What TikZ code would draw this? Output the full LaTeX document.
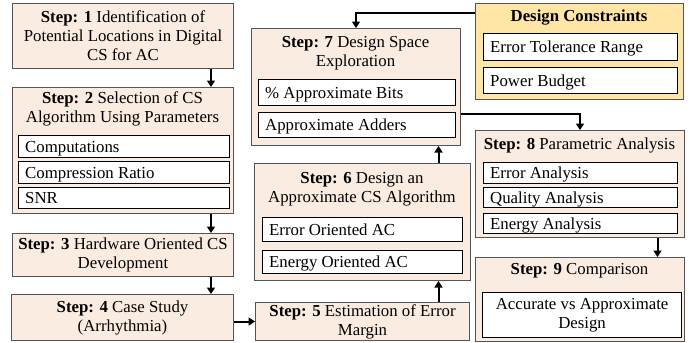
\documentclass[tikz,border=0pt]{standalone}
\usepackage{fontspec}
\setmainfont{Liberation Serif}
\usetikzlibrary{arrows.meta}
\definecolor{peach}{HTML}{FBECE1}
\definecolor{dcyel}{HTML}{FFE6A6}
\definecolor{edgegray}{HTML}{555555}
\begin{document}
\begin{tikzpicture}[x=1pt,y=-1pt,
  font=\fontsize{16.8}{19}\selectfont,
  stepbox/.style={draw=edgegray, line width=1pt, fill=peach, inner sep=0pt, anchor=north west, align=center},
  dcbox/.style={stepbox, fill=dcyel},
  subbox/.style={draw=black, line width=1.2pt, fill=white, inner sep=0pt, anchor=north west, align=center},
  ttl/.style={inner sep=0pt, align=center},
  sublbl/.style={inner sep=0pt, anchor=base west},
  arr/.style={line width=2pt, -{Triangle[length=6.5pt,width=8pt]}}]
\useasboundingbox (0,0) rectangle (697,343);

% Step 1
\node[stepbox, minimum width=221pt, minimum height=65pt] (s1) at (12,3)
  {\textbf{Step: 1} Identification of\\Potential Locations in Digital\\CS for AC};

% Step 2
\node[stepbox, minimum width=221pt, minimum height=126pt] (s2) at (12,87) {};
\node[ttl] (s2t) at (122.5,109) {\textbf{Step: 2} Selection of CS\\Algorithm Using Parameters};
\node[subbox, minimum width=211pt, minimum height=22pt] (s2a) at (18,135) {};
\node[subbox, minimum width=211pt, minimum height=22pt] (s2b) at (18,161) {};
\node[subbox, minimum width=211pt, minimum height=21pt] (s2c) at (18,187) {};
\node[sublbl] at ([shift={(7,5.5)}]s2a.west) {Computations};
\node[sublbl] at ([shift={(7,5.5)}]s2b.west) {Compression Ratio};
\node[sublbl] at ([shift={(7,5.5)}]s2c.west) {SNR};

% Step 3
\node[stepbox, minimum width=221pt, minimum height=43pt] (s3) at (12,233)
  {\textbf{Step: 3} Hardware Oriented CS\\Development};

% Step 4
\node[stepbox, minimum width=222pt, minimum height=46pt] (s4) at (11,294)
  {\textbf{Step: 4} Case Study\\(Arrhythmia)};

% Step 5
\node[stepbox, minimum width=214pt, minimum height=38pt] (s5) at (255,302)
  {\textbf{Step: 5} Estimation of Error\\Margin};

% Step 6
\node[stepbox, minimum width=216pt, minimum height=117pt] (s6) at (254,163) {};
\node[ttl] (s6t) at (362,189) {\textbf{Step: 6} Design an\\Approximate CS Algorithm};
\node[subbox, minimum width=200pt, minimum height=24pt] (s6a) at (262,217) {};
\node[subbox, minimum width=200pt, minimum height=23pt] (s6b) at (262,250) {};
\node[sublbl] at ([shift={(7,5.5)}]s6a.west) {Error Oriented AC};
\node[sublbl] at ([shift={(7,5.5)}]s6b.west) {Energy Oriented AC};

% Step 7
\node[stepbox, minimum width=209pt, minimum height=117pt] (s7) at (251,28) {};
\node[ttl] (s7t) at (355.5,53) {\textbf{Step: 7} Design Space\\Exploration};
\node[subbox, minimum width=197pt, minimum height=26pt] (s7a) at (258,79) {};
\node[subbox, minimum width=197pt, minimum height=25pt] (s7b) at (258,112) {};
\node[sublbl] at ([shift={(7,5.5)}]s7a.west) {\% Approximate Bits};
\node[sublbl] at ([shift={(7,5.5)}]s7b.west) {Approximate Adders};

% Design constraints
\node[dcbox, minimum width=208pt, minimum height=96pt] (dc) at (475,3) {};
\node[ttl] (dct) at (579,18) {\textbf{Design Constraints}};
\node[subbox, minimum width=194pt, minimum height=27pt] (dca) at (483,33) {};
\node[subbox, minimum width=194pt, minimum height=26pt] (dcb) at (483,67) {};
\node[sublbl] at ([shift={(7,5.5)}]dca.west) {Error Tolerance Range};
\node[sublbl] at ([shift={(7,5.5)}]dcb.west) {Power Budget};

% Step 8
\node[stepbox, minimum width=209pt, minimum height=107pt] (s8) at (475,130) {};
\node[ttl] (s8t) at (579.5,145) {\textbf{Step: 8} Parametric Analysis};
\node[subbox, minimum width=194pt, minimum height=21pt] (s8a) at (483,162) {};
\node[subbox, minimum width=194pt, minimum height=20pt] (s8b) at (483,187) {};
\node[subbox, minimum width=194pt, minimum height=20pt] (s8c) at (483,213) {};
\node[sublbl] at ([shift={(7,5.5)}]s8a.west) {Error Analysis};
\node[sublbl] at ([shift={(7,5.5)}]s8b.west) {Quality Analysis};
\node[sublbl] at ([shift={(7,5.5)}]s8c.west) {Energy Analysis};

% Step 9
\node[stepbox, minimum width=209pt, minimum height=84pt] (s9) at (475,257) {};
\node[ttl] (s9t) at (579.5,271) {\textbf{Step: 9} Comparison};
\node[subbox, minimum width=199pt, minimum height=45pt] (s9a) at (482,292)
  {Accurate vs Approximate\\Design};

% Connectors
\draw[arr] ([xshift=-23pt]s1.south east) -- ([xshift=-23pt]s2.north east);
\draw[arr] ([xshift=-23pt]s2.south east) -- ([xshift=-23pt]s3.north east);
\draw[arr] ([xshift=-23pt]s3.south east) -- ([xshift=-23pt]s4.north east);
\draw[arr] (s4.east |- s5.west) -- (s5.west);
\draw[arr] ([xshift=76pt]s5.north) -- ([xshift=76pt]s6.south);
\draw[arr] ([xshift=76pt]s6.north) -- ([xshift=76pt]s6.north |- s7.south);
\draw[arr] ([yshift=-10pt]dc.north west) -| (s7.north);
\draw[arr] ([yshift=-26.5pt]s7.east) -| (s8.north);
\draw[arr] ([xshift=77.5pt]s8.south) -- ([xshift=77.5pt]s9.north);
\end{tikzpicture}
\end{document}
